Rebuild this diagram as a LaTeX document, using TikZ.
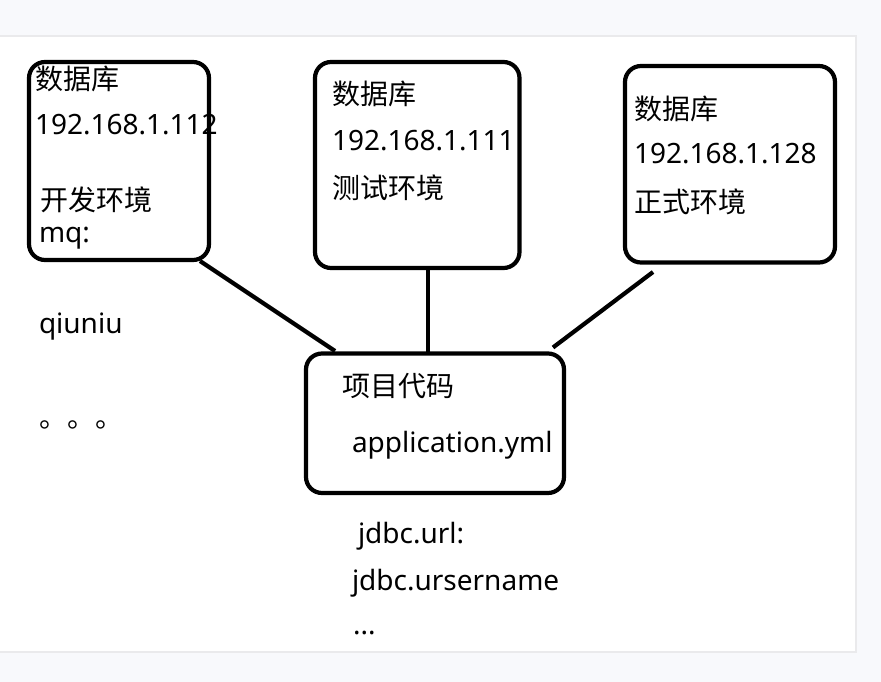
\documentclass[tikz,border=0pt]{standalone}
\usepackage{fontspec}
\setmainfont{Noto Sans}
\newfontfamily\cjk{Noto Sans CJK SC}
\definecolor{pagebg}{RGB}{248,249,252}
\definecolor{panelrim}{RGB}{234,234,236}

\begin{document}
\begin{tikzpicture}[x=1pt, y=-1pt,
    every node/.style={font=\fontsize{28}{28}\selectfont, inner sep=0pt, outer sep=0pt, anchor=base west},
    envbox/.style={draw, line width=4.2pt, rounded corners=16pt, anchor=north west},
    link/.style={line width=4.2pt}]
  \useasboundingbox (0,0) rectangle (881,682);
  \fill[pagebg] (0,0) rectangle (881,682);
  \fill[white] (0,36) rectangle (856,652);
  \draw[panelrim, line width=1.5pt] (0,36) -- (856,36) -- (856,652) -- (0,652);
  \node[envbox, minimum width=180pt, minimum height=198pt] (dev) at (29,62) {};
  \node[envbox, minimum width=204.5pt, minimum height=206pt] (test) at (315,62) {};
  \node[envbox, minimum width=210pt, minimum height=196.5pt] (prod) at (625,66) {};
  \node[envbox, minimum width=258pt, minimum height=139.5pt] (code) at (306,353.5) {};
  \node (devdb) at (35,90) {\cjk 数据库};
  \node (devip) at (35,135) {192.168.1.112};
  \node (devenv) at (40,211) {\cjk 开发环境};
  \node (devmq) at (39,242) {mq:};
  \node (testdb) at (332,105) {\cjk 数据库};
  \node (testip) at (332,150) {192.168.1.111};
  \node (testenv) at (332,198) {\cjk 测试环境};
  \node (proddb) at (634,120) {\cjk 数据库};
  \node (prodip) at (634,164) {192.168.1.128};
  \node (prodenv) at (634,212) {\cjk 正式环境};
  \node (qiuniu) at (39,333) {qiuniu};
  \node (more) at (39,427) {\cjk 。。。};
  \node (codetitle) at (342,396) {\cjk 项目代码};
  \node (codefile) at (352,452) {application.yml};
  \node (jdbcurl) at (358,543) {jdbc.url:};
  \node (jdbcuser) at (352,590) {jdbc.ursername};
  \node (jdbcmore) at (353,634) {...};
  \draw[link] ([shift={(-9,1)}]dev.south east) -- ([shift={(29,-2.5)}]code.north west);
  \draw[link] ([shift={(10.5,0)}]test.south) -- ([shift={(10.5,0)}]test.south |- code.north);
  \draw[link] ([shift={(28,9.5)}]prod.south west) -- ([shift={(-11,-6)}]code.north east);
\end{tikzpicture}
\end{document}
